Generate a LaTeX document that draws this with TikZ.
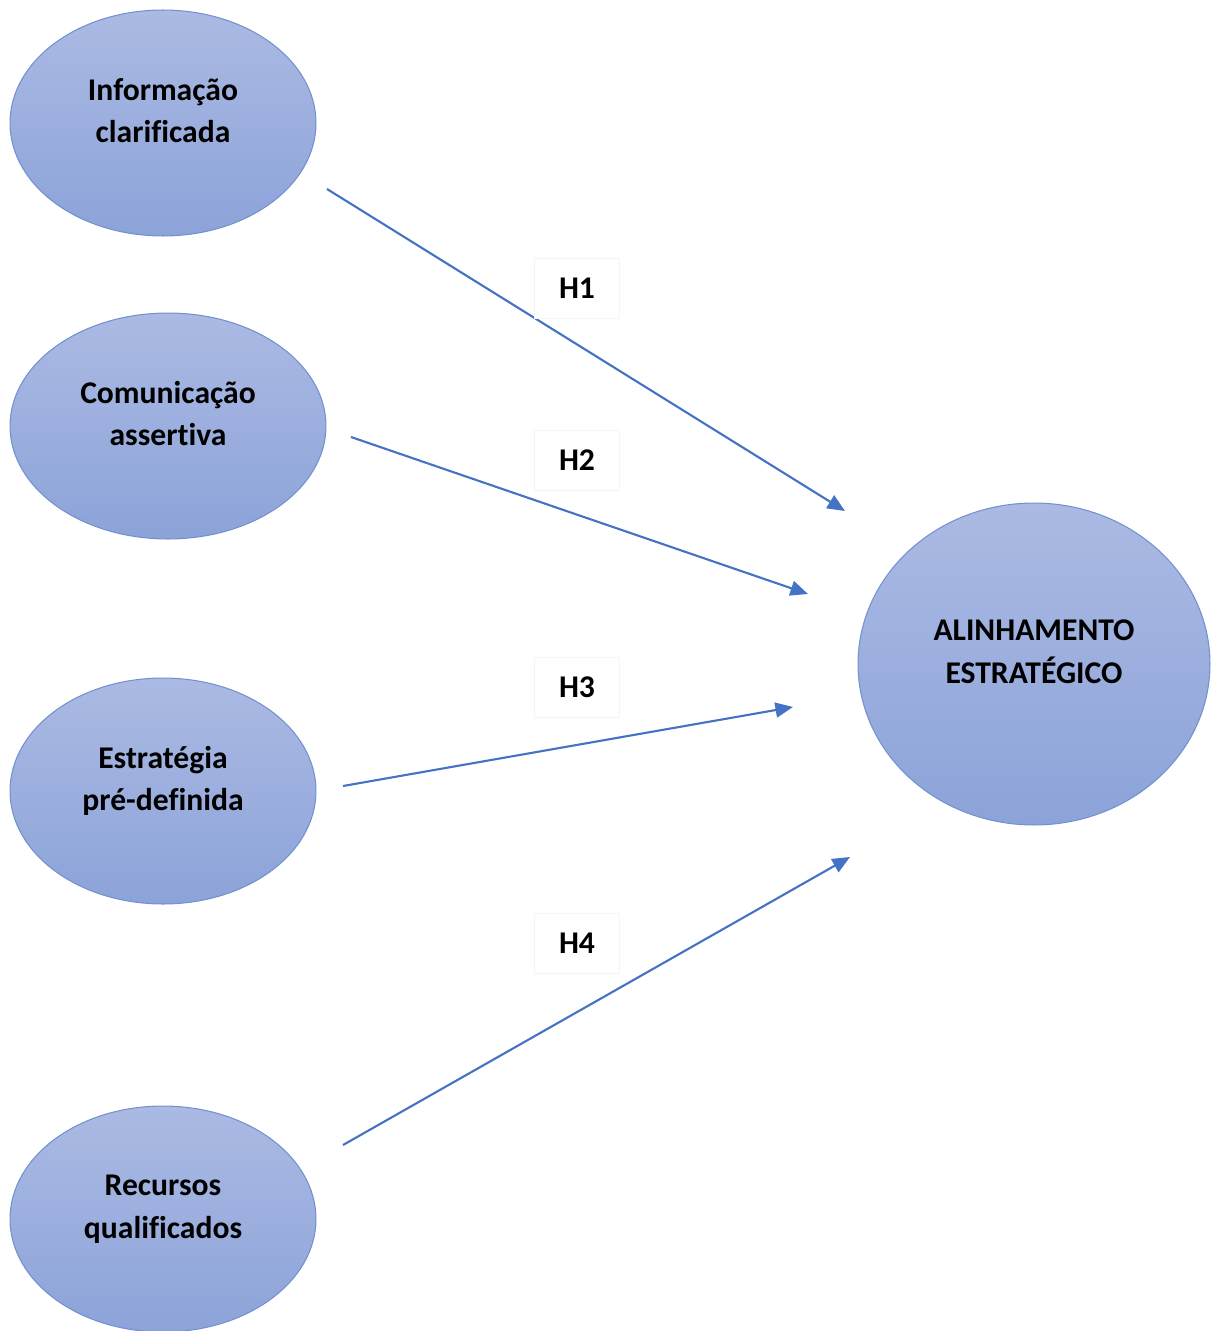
\documentclass[tikz,border=0pt]{standalone}
\usepackage{fontspec}
\setmainfont{Carlito}[Ligatures=NoCommon]
\usetikzlibrary{shapes.geometric,arrows.meta}
\definecolor{ovaltop}{HTML}{ABBAE3}
\definecolor{ovalbot}{HTML}{8CA3D9}
\definecolor{ovaledge}{HTML}{7391CF}
\definecolor{linkblue}{HTML}{4472C4}
\begin{document}
\begin{tikzpicture}[x=0.02cm,y=-0.02cm,
  oval/.style={ellipse,draw=ovaledge,line width=0.6pt,top color=ovaltop,bottom color=ovalbot,
    inner sep=0pt,align=center,text depth=14pt,font=\fontsize{18}{24}\selectfont\bfseries},
  link/.style={linkblue,line width=1.2pt,-{Triangle[width=8.5pt,length=10pt]}},
  hyp/.style={draw=black!4,fill=white,line width=0.5pt,minimum width=1.7cm,minimum height=1.2cm,
    font=\fontsize{18}{22}\selectfont\bfseries}]
\useasboundingbox (0,0) rectangle (1211,1331);

% source constructs
\node[oval,minimum width=6.12cm,minimum height=4.52cm] (info) at (163,123) {Informação\\clarificada};
\node[oval,minimum width=6.32cm,minimum height=4.52cm] (comm) at (168,426) {Comunicação\\assertiva};
\node[oval,minimum width=6.12cm,minimum height=4.52cm] (estr) at (163,791) {Estratégia\\pré-definida};
\node[oval,minimum width=6.12cm,minimum height=4.52cm] (recu) at (163,1219) {Recursos\\qualificados};

% outcome construct
\node[oval,minimum width=7.04cm,minimum height=6.44cm] (alin) at (1034,664) {ALINHAMENTO\\ESTRATÉGICO};

% arrow end points
\coordinate (s1) at (327,189);  \coordinate (t1) at (845,511);
\coordinate (s2) at (351,437);  \coordinate (t2) at (808,594);
\coordinate (s3) at (343,786);  \coordinate (t3) at (793,707);
\coordinate (s4) at (343,1145); \coordinate (t4) at (850,857);

\draw[link] (s1) -- (t1);
\draw[link] (s2) -- (t2);
\draw[link] (s3) -- (t3);
\draw[link] (s4) -- (t4);

% hypothesis labels
\node[hyp] (h1) at (577,288) {H1};
\node[hyp] (h2) at (577,460) {H2};
\node[hyp] (h3) at (577,687) {H3};
\node[hyp] (h4) at (577,943) {H4};
\end{tikzpicture}
\end{document}
